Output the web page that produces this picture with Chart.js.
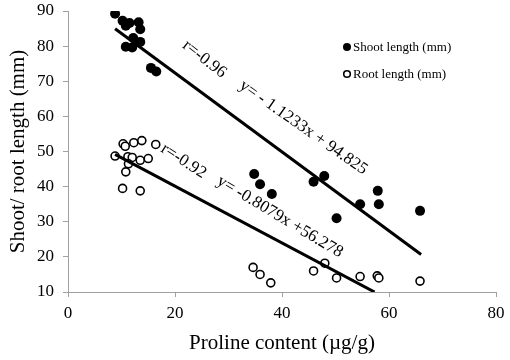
<!DOCTYPE html>
<html>
<head>
<meta charset="utf-8">
<script src="https://cdn.jsdelivr.net/npm/chart.js@4/dist/chart.umd.min.js"></script>
<style>
html,body{margin:0;padding:0;background:#fff;}
#wrap{width:510px;height:360px;}
</style>
</head>
<body>
<div id="wrap"><canvas id="c" width="510" height="360"></canvas></div>
<script>
// ---- data ----
const shootX = [8.8, 10.2, 10.8, 11.5, 13.2, 13.5, 12.2, 13.5, 10.8, 12.0, 15.5, 16.5,
                34.8, 35.9, 38.1, 45.9, 47.9, 50.2, 54.6, 57.9, 58.1, 65.8];
const shootY = [89.2, 87.2, 85.8, 86.6, 86.8, 84.8, 82.3, 81.2, 79.8, 79.6, 73.8, 72.8,
                43.6, 40.7, 37.9, 41.4, 43.0, 31.0, 35.0, 38.8, 35.0, 33.1];
const rootX = [8.8, 10.3, 10.7, 12.3, 13.8, 16.4, 11.2, 12.0, 13.5, 15.0, 11.3, 10.8, 10.2, 13.5,
               34.6, 35.9, 37.9, 45.9, 48.0, 50.2, 54.6, 57.8, 58.1, 65.8];
const rootY = [48.7, 52.2, 51.5, 52.5, 53.1, 52.0, 48.5, 48.3, 47.5, 48.0, 46.5, 44.2, 39.5, 38.8,
               17.0, 15.0, 12.6, 16.0, 18.2, 14.0, 14.4, 14.6, 14.0, 13.1];
const seriesNames = ["Shoot length (mm)", "Root length (mm)"];
const shootFit = [-1.1233, 94.825];   // slope, intercept
const rootFit = [-0.8079, 56.278];
const shootFitRange = [8.8, 66];
const rootFitRange = [8.8, 57.3];
const xTicks = [0, 20, 40, 60, 80];
const yTicks = [10, 20, 30, 40, 50, 60, 70, 80, 90];
const xTitle = "Proline content (\u00b5g/g)";
const yTitle = "Shoot/ root length (mm)";
const shootLabels = ["r=-0.96", "y= - 1.1233x + 94.825"];
const rootLabels = ["r=-0.92", "y= -0.8079x +56.278"];

const toPts = (xs, ys) => xs.map((x, i) => ({x: x, y: ys[i]}));
const fitPts = (f, r) => r.map(x => ({x: x, y: f[0] * x + f[1]}));

const SERIF = "'Liberation Serif', 'Times New Roman', serif";

const annotPlugin = {
  id: 'annot',
  afterDatasetsDraw(chart) {
    const ctx = chart.ctx, xs = chart.scales.x, ys = chart.scales.y;
    const items = [
      {t: shootLabels[0], x: 25.5, y: 76.3, a: 38},
      {t: shootLabels[1], x: 44.0, y: 56.8, a: 35},
      {t: rootLabels[0], x: 21.6, y: 47.3, a: 33},
      {t: rootLabels[1], x: 39.6, y: 31.4, a: 31}
    ];
    ctx.save();
    ctx.fillStyle = '#000';
    ctx.font = '17px ' + SERIF;
    ctx.textAlign = 'center';
    ctx.textBaseline = 'middle';
    items.forEach(it => {
      ctx.save();
      ctx.translate(xs.getPixelForValue(it.x), ys.getPixelForValue(it.y));
      ctx.rotate(it.a * Math.PI / 180);
      ctx.fillText(it.t, 0, 0);
      ctx.restore();
    });
    // legend
    const lx = 347, ly = [47, 74];
    ctx.font = '13px ' + SERIF;
    ctx.textAlign = 'left';
    ly.forEach((y, i) => {
      ctx.beginPath();
      ctx.arc(lx, y, i === 0 ? 4 : 3.3, 0, Math.PI * 2);
      if (i === 0) { ctx.fillStyle = '#000'; ctx.fill(); }
      else { ctx.lineWidth = 1.6; ctx.strokeStyle = '#000'; ctx.stroke(); }
      ctx.fillStyle = '#000';
      ctx.fillText(seriesNames[i], lx + 6, y + 1);
    });
    ctx.restore();
  }
};

new Chart(document.getElementById('c'), {
  type: 'scatter',
  data: {
    datasets: [
      {label: seriesNames[0], data: toPts(shootX, shootY), pointRadius: 5, pointHoverRadius: 5,
       backgroundColor: '#000', borderColor: '#000', borderWidth: 0, order: 2},
      {label: seriesNames[1], data: toPts(rootX, rootY), pointRadius: 4, pointHoverRadius: 4,
       backgroundColor: '#fff', borderColor: '#000', borderWidth: 1.6, order: 3},
      {type: 'line', label: 'fit1', data: fitPts(shootFit, shootFitRange), borderColor: '#000',
       borderWidth: 3, pointRadius: 0, fill: false, order: 1},
      {type: 'line', label: 'fit2', data: fitPts(rootFit, rootFitRange), borderColor: '#000',
       borderWidth: 3, pointRadius: 0, fill: false, order: 1}
    ]
  },
  options: {
    responsive: false,
    animation: false,
    devicePixelRatio: 1,
    layout: {padding: {top: 11, right: 14, left: 0, bottom: 0}},
    plugins: {legend: {display: false}, tooltip: {enabled: false}},
    scales: {
      x: {
        type: 'linear', min: 0, max: 80,
        afterBuildTicks: s => { s.ticks = xTicks.map(v => ({value: v})); },
        afterFit: s => { s.height = 68; s.paddingLeft = 0; s.paddingRight = 0; },
        grid: {display: true, drawOnChartArea: false, drawTicks: true, tickLength: 5, color: '#a0a0a0'},
        border: {display: true, color: '#a0a0a0', width: 1},
        ticks: {color: '#000', font: {family: SERIF, size: 17}, padding: 6, maxRotation: 0},
        title: {display: true, text: xTitle, color: '#000', font: {family: SERIF, size: 21}, padding: {top: 6}}
      },
      y: {
        type: 'linear', min: 10, max: 90,
        afterBuildTicks: s => { s.ticks = yTicks.map(v => ({value: v})); },
        afterFit: s => { s.width = 68; s.paddingTop = 0; s.paddingBottom = 0; },
        grid: {display: true, drawOnChartArea: false, drawTicks: true, tickLength: 5, color: '#a0a0a0'},
        border: {display: true, color: '#a0a0a0', width: 1},
        ticks: {color: '#000', font: {family: SERIF, size: 17}, padding: 9},
        title: {display: true, text: yTitle, color: '#000', font: {family: SERIF, size: 21}, padding: {top: 6, bottom: 4}}
      }
    }
  },
  plugins: [annotPlugin]
});
</script>
</body>
</html>
